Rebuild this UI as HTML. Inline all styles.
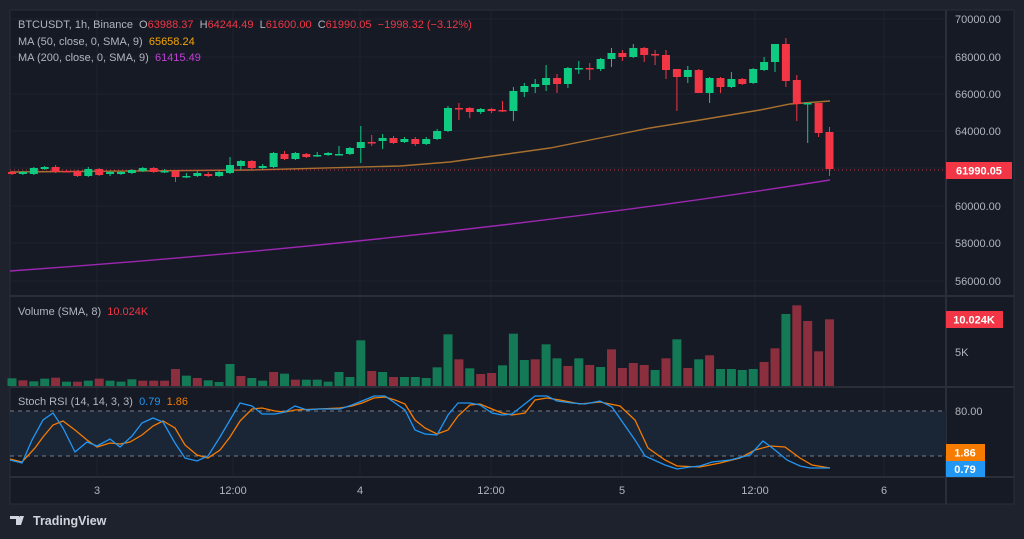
<!DOCTYPE html><html><head><meta charset="utf-8"><style>
html,body{margin:0;padding:0;background:#1e222d;width:1024px;height:539px;overflow:hidden;font-family:"Liberation Sans",sans-serif}
svg{position:absolute;left:0;top:0}
text{white-space:pre}
</style></head><body>
<svg id="s" width="1024" height="539" xmlns="http://www.w3.org/2000/svg"></svg>
<script>
const S=document.getElementById('s');let h='';
h+='<rect x="10" y="10" width="1004" height="494" fill="#161a25" stroke="#2a2e39"/>';
[19,57,94,131,168,206,243,281].forEach(y=>h+=`<line x1="10" x2="946" y1="${y}" y2="${y}" stroke="#1f2330"/>`);
[97,233,360,491,622,755,884].forEach(x=>h+=`<line x1="${x}" x2="${x}" y1="10" y2="477" stroke="#1f2330"/>`);
[296,387,477].forEach(y=>h+=`<line x1="10" x2="1014" y1="${y}" y2="${y}" stroke="#2a2e39" stroke-width="2"/>`);
h+='<line x1="946" x2="946" y1="10" y2="504" stroke="#2a2e39" stroke-width="2"/>';
h+='<path d="M10,271 Q450,240 830,180" fill="none" stroke="#9c27b0" stroke-width="1.4"/>';
h+='<polyline points="10,172 250,170 400,166 450,162 500,155 550,148 600,138 650,128 700,120 760,110 790,104 830,101" fill="none" stroke="#a8702f" stroke-width="1.4"/>';
h+='<line x1="10" x2="946" y1="170" y2="170" stroke="#f23645" stroke-dasharray="1 3" opacity="0.8"/>';
const C=[[172,174],[174,172,171,175],[174,168],[169,167],[167,172,165,173],[171,171,170,172],[171,176],[176,169,167,177],[169,175],[174,172,171,176],[174,172],[173,170],[171,168],[168,172],[171,171,169,173],[171,177,170,182],[176,176,173,178],[176,173,171,177],[174,176,172,177],[176,172],[173,165,157,174],[166,161,160,170],[161,168,160,169],[168,166,164,169],[167,153,152,168],[154,159,151,160],[159,153,152,160],[154,157,153,158],[155,155,152,157],[155,153,152,156],[154,154,146,155],[154,148,147,155],[148,142,126,163],[142,142,135,146],[141,138,134,149],[138,143,136,144],[142,139,137,143],[139,144,137,146],[144,139,137,145],[139,131,129,140],[131,108,106,132],[108,108,103,120],[108,112,107,118],[112,109,108,114],[109,111,108,113],[110,111,101,112],[111,91,87,121],[92,86,83,97],[87,84,79,93],[85,78,65,91],[78,84,74,93],[84,68,67,88],[68,68,61,74],[68,69,63,80],[69,59,58,71],[59,53,48,67],[53,57,50,61],[57,48,44,58],[48,55,47,62],[54,55,50,65],[55,70,50,79],[69,77,69,111],[77,70,66,83],[70,93,69,93],[93,78,77,103],[78,87,77,93],[87,79,72,88],[79,84,78,85],[83,69,68,84],[70,62,57,71],[62,44,44,72],[44,81,38,87],[80,104,75,121],[104,103,103,143],[103,133,103,137],[132,169,127,176]];
const G='#0ecb81',R='#f23645';
C.forEach((c,i)=>{const x=12+i*10.9;let[o,cl,hi,lo]=c;hi=hi??Math.min(o,cl)-1;lo=lo??Math.max(o,cl)+1;const col=cl<=o&&!(cl==o&&i%2)?G:R;const t=Math.min(o,cl),b=Math.max(o,cl,t+1.5);
h+=`<line x1="${x}" x2="${x}" y1="${hi}" y2="${lo}" stroke="${col}" stroke-width="1"/><rect x="${x-4}" y="${t}" width="8" height="${b-t}" fill="${col}"/>`;});
const VT=[265,271,274,266,263,275,275,272,266,272,275,268,272,272,272,237,257,264,271,276,222,258,264,272,246,251,269,269,269,275,246,261,151,243,246,261,261,261,264,232,133,208,235,252,249,226,131,210,208,163,205,228,205,225,231,178,234,219,225,240,205,148,234,208,196,237,237,240,237,216,175,72,46,93,184,88];
const VC="grggrgrgrgggrrrrgrgggrggrgrggggggrgrgggggrgrrgggrggrgrgrrrrgrgrgrggggrrgrr";
VT.forEach((v,i)=>{const x=12+i*10.9;const y=290+v/3;const col=VC[i]=='g'?'#147a56':'#8b2f3f';h+=`<rect x="${x-4.5}" y="${y}" width="9" height="${386-y}" fill="${col}"/>`;});
h+='<rect x="10" y="411" width="936" height="45" fill="#1a2536"/>';
[411,456].forEach(y=>h+=`<line x1="10" x2="946" y1="${y}" y2="${y}" stroke="#787b86" stroke-dasharray="4 4"/>`);
const B="10,460 22,463 32,440 43,420 53,413 63,428 75,452 87,442 97,446 110,439 120,447 132,436 142,423 153,418 163,422 175,443 185,458 197,461 208,456 220,437 230,420 240,403 252,406 262,414 275,414 285,412 295,406 307,410 318,409 330,409 340,409 352,405 362,401 374,396 385,396 395,403 405,410 415,430 425,434 437,435 448,415 458,403 470,403 480,405 492,413 502,415 512,414 535,396 547,396 557,401 572,403 585,404 600,401 612,407 635,440 645,456 665,465 677,469 690,467 700,466 712,462 730,460 750,455 763,441 775,450 787,460 800,466 810,468 830,468";
const O="10,459 22,462 35,448 43,437 53,425 63,421 75,430 87,440 97,447 110,443 120,444 130,442 142,435 153,426 163,421 175,428 185,445 197,455 208,458 220,450 230,437 240,421 252,409 262,408 275,411 285,412 295,410 318,409 340,408 352,406 362,403 374,398 385,397 395,400 405,404 415,420 425,428 437,434 448,430 458,416 470,405 480,404 492,409 502,413 512,415 525,413 535,400 547,398 560,400 580,404 600,402 620,406 635,420 648,448 665,460 677,466 700,467 720,463 740,458 755,450 770,446 785,447 800,458 812,465 830,468";
h+=`<polyline points="${O}" fill="none" stroke="#f57c00" stroke-width="1.3"/><polyline points="${B}" fill="none" stroke="#2196f3" stroke-width="1.3"/>`;
const T=(x,y,t,c,s,a,w)=>`<text x="${x}" y="${y}" fill="${c}" font-size="${s}" text-anchor="${a||'start'}" ${w?'font-weight="bold"':''}>${t}</text>`;
[[19,'70000.00'],[57,'68000.00'],[94,'66000.00'],[131,'64000.00'],[206,'60000.00'],[243,'58000.00'],[281,'56000.00']].forEach(([y,t])=>h+=T(955,y+4,t,'#b2b5be',11));
h+='<rect x="946" y="162" width="66" height="17" fill="#f23645"/>'+T(979,174.5,'61990.05','#fff',11,'middle',1);
h+='<rect x="946" y="311" width="57" height="17" fill="#f23645"/>'+T(974,323.5,'10.024K','#fff',11,'middle',1);
h+=T(955,356,'5K','#b2b5be',11);
h+=T(955,415,'80.00','#b2b5be',11);
h+='<rect x="946" y="444" width="39" height="17" fill="#f57c00"/>'+T(965,456.5,'1.86','#fff',11,'middle',1);
h+='<rect x="946" y="461" width="39" height="16" fill="#2196f3"/>'+T(965,473,'0.79','#fff',11,'middle',1);
[[97,'3'],[233,'12:00'],[360,'4'],[491,'12:00'],[622,'5'],[755,'12:00'],[884,'6']].forEach(([x,t])=>h+=T(x,494,t,'#b2b5be',11,'middle'));
h+=`<text x="18" y="28" font-size="11" fill="#b2b5be">BTCUSDT, 1h, Binance  O<tspan fill="#f23645">63988.37</tspan>  H<tspan fill="#f23645">64244.49</tspan>  L<tspan fill="#f23645">61600.00</tspan>  C<tspan fill="#f23645">61990.05</tspan>  <tspan fill="#f23645">−1998.32 (−3.12%)</tspan></text>`;
h+=`<text x="18" y="45" font-size="11" fill="#b2b5be">MA (50, close, 0, SMA, 9)  <tspan fill="#f7a600">65658.24</tspan></text>`;
h+=`<text x="18" y="61" font-size="11" fill="#b2b5be">MA (200, close, 0, SMA, 9)  <tspan fill="#c23fd6">61415.49</tspan></text>`;
h+=`<text x="18" y="315" font-size="11" fill="#b2b5be">Volume (SMA, 8)  <tspan fill="#f23645">10.024K</tspan></text>`;
h+=`<text x="18" y="405" font-size="11" fill="#b2b5be">Stoch RSI (14, 14, 3, 3)  <tspan fill="#2196f3">0.79</tspan>  <tspan fill="#f57c00">1.86</tspan></text>`;
h+='<path d="M10,516 h9 v9 h-3 v-6 h-6z M20,516 h4 l-3,9 h-4z" fill="#d1d4dc"/><circle cx="20" cy="518" r="1.5" fill="#d1d4dc"/>';
h+=T(33,525,'TradingView','#d1d4dc',12.5,'start',1);
S.innerHTML=h;
</script></body></html>
